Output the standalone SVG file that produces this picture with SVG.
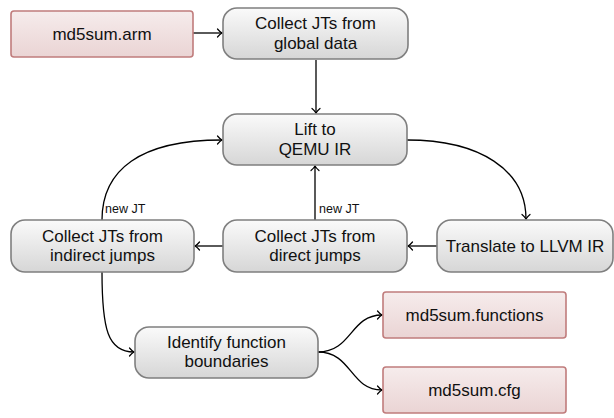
<svg xmlns="http://www.w3.org/2000/svg" width="614" height="418" viewBox="0 0 614 418">
  <defs>
    <linearGradient id="gGray" x1="0" y1="0" x2="0" y2="1">
      <stop offset="0" stop-color="#fafafa"/>
      <stop offset="1" stop-color="#d6d6d6"/>
    </linearGradient>
    <linearGradient id="gRed" x1="0" y1="0" x2="0" y2="1">
      <stop offset="0" stop-color="#f6ecec"/>
      <stop offset="1" stop-color="#ead4d4"/>
    </linearGradient>
    <marker id="arr" viewBox="-6 -5 8 10" markerWidth="8" markerHeight="10" refX="0" refY="0" orient="auto" markerUnits="userSpaceOnUse">
      <path d="M-4.5,-4 C-2.5,-1.6 -1,-0.5 0,0 C-1,0.5 -2.5,1.6 -4.5,4" fill="none" stroke="#000" stroke-width="1.2" stroke-linecap="round"/>
    </marker>
  </defs>
  <style>
    .proc { fill: url(#gGray); stroke: #7f7f7f; stroke-width: 1.6; }
    .file { fill: url(#gRed); stroke: #c07c7c; stroke-width: 1.6; }
    .lbl { font-family: "Liberation Sans", Arial, sans-serif; font-size: 17px; fill: #111; text-anchor: middle; }
    .small { font-family: "Liberation Sans", Arial, sans-serif; font-size: 12.5px; fill: #111; }
    .edge { fill: none; stroke: #000; stroke-width: 1.3; marker-end: url(#arr); }
  </style>

  <!-- connectors -->
  <g id="edges">
    <path class="edge" d="M193,33 L222,33"/>
    <path class="edge" d="M316,60 L316,113"/>
    <path class="edge" d="M407,140 C480,140 526,170 526,219"/>
    <path class="edge" d="M437,246 L408,246"/>
    <path class="edge" d="M223,246 L195,246"/>
    <path class="edge" d="M315,220 L315,166"/>
    <path class="edge" d="M102,220 C102,170 140,140 222,140"/>
    <path class="edge" d="M102,272 C102,330 108,352 134,352"/>
    <path class="edge" d="M318,352 C352,352 350,315 382,315"/>
    <path class="edge" d="M318,352 C352,352 350,390 382,390"/>
    <text class="small" x="105" y="213">new JT</text>
    <text class="small" x="319" y="213">new JT</text>
  </g>

  <g id="n-arm">
    <rect class="file" x="11" y="11" width="182" height="46" rx="3"/>
    <text class="lbl" x="102" y="40">md5sum.arm</text>
  </g>

  <g id="n-global">
    <rect class="proc" x="223" y="8" width="185" height="51" rx="14"/>
    <text class="lbl" x="315.5" y="29">Collect JTs from</text>
    <text class="lbl" x="315.5" y="49">global data</text>
  </g>

  <g id="n-lift">
    <rect class="proc" x="223" y="114" width="184" height="51" rx="14"/>
    <text class="lbl" x="315" y="135">Lift to</text>
    <text class="lbl" x="315" y="155">QEMU IR</text>
  </g>

  <g id="n-translate">
    <rect class="proc" x="437" y="220" width="176" height="52" rx="14"/>
    <text class="lbl" x="525" y="252">Translate to LLVM IR</text>
  </g>

  <g id="n-direct">
    <rect class="proc" x="223" y="220" width="184" height="52" rx="14"/>
    <text class="lbl" x="315" y="242">Collect JTs from</text>
    <text class="lbl" x="315" y="261">direct jumps</text>
  </g>

  <g id="n-indirect">
    <rect class="proc" x="11" y="220" width="183" height="52" rx="14"/>
    <text class="lbl" x="102.5" y="242">Collect JTs from</text>
    <text class="lbl" x="102.5" y="261">indirect jumps</text>
  </g>

  <g id="n-identify">
    <rect class="proc" x="135" y="327" width="183" height="51" rx="14"/>
    <text class="lbl" x="226.5" y="348">Identify function</text>
    <text class="lbl" x="226.5" y="367">boundaries</text>
  </g>

  <g id="n-functions">
    <rect class="file" x="383" y="292" width="183" height="46" rx="3"/>
    <text class="lbl" x="474.5" y="321">md5sum.functions</text>
  </g>

  <g id="n-cfg">
    <rect class="file" x="383" y="367" width="183" height="46" rx="3"/>
    <text class="lbl" x="474.5" y="396">md5sum.cfg</text>
  </g>
</svg>
